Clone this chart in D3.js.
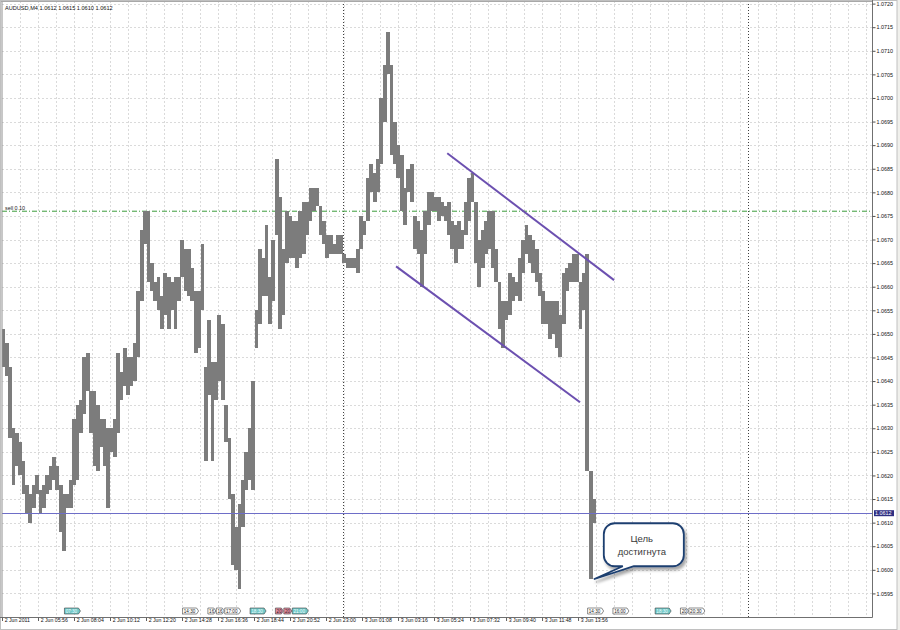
<!DOCTYPE html>
<html><head><meta charset="utf-8">
<script src="https://cdn.jsdelivr.net/npm/d3@7"></script>
<style>body{margin:0;background:#fff}svg{display:block}</style>
</head><body><svg id="c" width="900" height="630"></svg>
<script>
// ---------------- data ----------------
const symbol = "AUDUSD,M4";
const lastOHLC = [1.0612, 1.0615, 1.0610, 1.0612];
const firstBar = "2011-06-02T03:52";
const barMinutes = 12;
const highs = [1.0651,1.0648,1.0643,1.0630,1.0629,1.0627,1.0623,1.0618,1.0616,1.0618,
1.0620,1.0617,1.0618,1.0620,1.0622,1.0624,1.0622,1.0618,1.0616,1.0616,
1.0619,1.0632,1.0635,1.0636,1.0645,1.0646,1.0638,1.0638,1.0635,1.0632,
1.0632,1.0630,1.0630,1.0632,1.0646,1.0642,1.0647,1.0645,1.0645,1.0648,
1.0659,1.0672,1.0676,1.0676,1.0665,1.0661,1.0662,1.0658,1.0663,1.0662,
1.0661,1.0662,1.0662,1.0670,1.0668,1.0668,1.0664,1.0659,1.0659,1.0669,
1.0643,1.0653,1.0644,1.0644,1.0654,1.0652,1.0635,1.0628,1.0616,1.0609,
1.0614,1.0619,1.0625,1.0630,1.0640,1.0655,1.0668,1.0666,1.0673,1.0662,
1.0670,1.0687,1.0679,1.0668,1.0676,1.0675,1.0674,1.0674,1.0676,1.0678,
1.0678,1.0681,1.0681,1.0681,1.0677,1.0674,1.0671,1.0671,1.0669,1.0671,
1.0671,1.0667,1.0666,1.0666,1.0666,1.0668,1.0675,1.0674,1.0683,1.0686,
1.0684,1.0687,1.0700,1.0707,1.0714,1.0707,1.0695,1.0690,1.0688,1.0681,
1.0685,1.0686,1.0675,1.0674,1.0672,1.0676,1.0680,1.0680,1.0679,1.0679,
1.0678,1.0677,1.0678,1.0674,1.0673,1.0674,1.0672,1.0678,1.0683,1.0684,
1.0678,1.0670,1.0672,1.0674,1.0676,1.0676,1.0668,1.0661,1.0657,1.0657,
1.0663,1.0662,1.0661,1.0666,1.0670,1.0673,1.0671,1.0670,1.0668,1.0663,
1.0659,1.0657,1.0657,1.0657,1.0657,1.0654,1.0663,1.0664,1.0665,1.0667,
1.0667,1.0661,1.0663,1.0667,1.0621,1.0615];
const lows = [1.0643,1.0641,1.0628,1.0618,1.0622,1.0620,1.0616,1.0612,1.0610,1.0613,
1.0616,1.0612,1.0613,1.0616,1.0617,1.0619,1.0617,1.0608,1.0604,1.0613,
1.0613,1.0618,1.0619,1.0629,1.0633,1.0638,1.0629,1.0622,1.0621,1.0626,
1.0622,1.0613,1.0625,1.0624,1.0629,1.0636,1.0639,1.0637,1.0639,1.0640,
1.0645,1.0657,1.0669,1.0661,1.0659,1.0657,1.0655,1.0651,1.0654,1.0651,
1.0655,1.0651,1.0657,1.0662,1.0659,1.0658,1.0657,1.0646,1.0647,1.0655,
1.0623,1.0637,1.0623,1.0636,1.0640,1.0636,1.0627,1.0615,1.0601,1.0600,
1.0596,1.0609,1.0617,1.0619,1.0617,1.0647,1.0652,1.0658,1.0658,1.0652,
1.0657,1.0671,1.0651,1.0654,1.0665,1.0666,1.0666,1.0664,1.0666,1.0667,
1.0671,1.0674,1.0676,1.0677,1.0671,1.0669,1.0666,1.0667,1.0667,1.0667,
1.0667,1.0665,1.0664,1.0664,1.0664,1.0663,1.0668,1.0671,1.0674,1.0680,
1.0678,1.0680,1.0686,1.0695,1.0705,1.0688,1.0686,1.0683,1.0676,1.0673,
1.0680,1.0678,1.0668,1.0667,1.0660,1.0667,1.0673,1.0676,1.0676,1.0674,
1.0675,1.0674,1.0671,1.0668,1.0665,1.0668,1.0668,1.0671,1.0674,1.0678,
1.0665,1.0660,1.0664,1.0667,1.0668,1.0664,1.0661,1.0651,1.0647,1.0653,
1.0654,1.0657,1.0658,1.0657,1.0663,1.0667,1.0665,1.0663,1.0661,1.0658,
1.0652,1.0652,1.0649,1.0650,1.0647,1.0645,1.0652,1.0659,1.0661,1.0661,
1.0661,1.0651,1.0655,1.0621,1.0598,1.0610];

const priceTicks = [1.0595,1.0600,1.0605,1.0610,1.0615,1.0620,1.0625,1.0630,1.0635,1.0640,
1.0645,1.0650,1.0655,1.0660,1.0665,1.0670,1.0675,1.0680,1.0685,1.0690,1.0695,1.0700,
1.0705,1.0710,1.0715,1.0720];
const timeTicks = ["2011-06-02T03:48","2011-06-02T05:56","2011-06-02T08:04","2011-06-02T10:12",
"2011-06-02T12:20","2011-06-02T14:28","2011-06-02T16:36","2011-06-02T18:44","2011-06-02T20:52",
"2011-06-02T23:00","2011-06-03T01:08","2011-06-03T03:16","2011-06-03T05:24","2011-06-03T07:32",
"2011-06-03T09:40","2011-06-03T11:48","2011-06-03T13:56"];
const timeTickLabels = ["2 Jun 2011","2 Jun 05:56","2 Jun 08:04","2 Jun 10:12","2 Jun 12:20",
"2 Jun 14:28","2 Jun 16:36","2 Jun 18:44","2 Jun 20:52","2 Jun 23:00","3 Jun 01:08",
"3 Jun 03:16","3 Jun 05:24","3 Jun 07:32","3 Jun 09:40","3 Jun 11:48","3 Jun 13:56"];
const daySeparators = ["2011-06-03T00:00","2011-06-04T00:00"];
const sellLevel = 1.0676, sellLabel = "sell 0.10";
const bidLevel = 1.0612;
const eventTimes = ["2011-06-02T07:30","2011-06-02T14:30","2011-06-02T16:00","2011-06-02T16:30",
"2011-06-02T17:00","2011-06-02T18:30","2011-06-02T20:00","2011-06-02T20:30","2011-06-02T21:00",
"2011-06-03T14:30","2011-06-03T16:00","2011-06-03T18:30","2011-06-03T20:00","2011-06-03T20:30"];
const eventKinds = ["teal","white","white","white","white","teal","pink","pink","teal",
"white","white","teal","white","white"];
const upperChannel = [["2011-06-03T06:11",1.06883],["2011-06-03T16:04",1.06614]];
const lowerChannel = [["2011-06-03T03:09",1.06643],["2011-06-03T14:03",1.06355]];
const calloutLines = ["Цель","достигнута"];
const calloutAt = ["2011-06-03T14:52", 1.0598];

// ---------------- drawing ----------------
const parse = d3.timeParse("%Y-%m-%dT%H:%M");
const svg = d3.select("#c");
const W = 900, H = 630;
const L = 2, R = 872, T = 3.6, B = 617;
const tStart = parse("2011-06-02T03:48");
const x = d3.scaleTime().domain([tStart, d3.timeMinute.offset(tStart, 3093)]).range([L, R]);
const y = d3.scaleLinear().domain([1.0590, 1.0720]).range([B, T]);
const FONT = "Liberation Sans, Arial, sans-serif";

svg.append("rect").attr("width", W).attr("height", H).attr("fill", "#fff");
svg.append("rect").attr("x", 897).attr("width", 3).attr("height", H).attr("fill", "#f0f0ec");
svg.append("rect").attr("x", 0.5).attr("y", 0.5).attr("width", 896.5).attr("height", 629)
  .attr("fill", "none").attr("stroke", "#c0c0c0");

const defs = svg.append("defs");
defs.append("clipPath").attr("id", "plot").append("rect")
  .attr("x", L).attr("y", 1).attr("width", R - L).attr("height", B - 1);
const f = defs.append("filter").attr("id", "sh").attr("x", "-20%").attr("y", "-20%").attr("width", "150%").attr("height", "150%");
f.append("feDropShadow").attr("dx", 2).attr("dy", 3).attr("stdDeviation", 1.6).attr("flood-color", "#000").attr("flood-opacity", 0.35);

// grid
const g = svg.append("g").attr("clip-path", "url(#plot)");
const gridTimes = d3.range(64, 3093, 64).map(m => d3.timeMinute.offset(tStart, m));
g.selectAll(".vg").data(gridTimes).join("line")
  .attr("x1", d => Math.round(x(d)) + 0.5).attr("x2", d => Math.round(x(d)) + 0.5)
  .attr("y1", 1).attr("y2", B).attr("stroke", "#dadada").attr("stroke-dasharray", "2,2");
g.selectAll(".hg").data(priceTicks).join("line")
  .attr("x1", L).attr("x2", R).attr("y1", d => Math.round(y(d)) + 0.5).attr("y2", d => Math.round(y(d)) + 0.5)
  .attr("stroke", "#dadada").attr("stroke-dasharray", "2,2");

// day separators
g.selectAll(".ds").data(daySeparators.map(parse)).join("line")
  .attr("x1", d => Math.round(x(d)) + 0.5).attr("x2", d => Math.round(x(d)) + 0.5)
  .attr("y1", 1).attr("y2", B).attr("stroke", "#404040").attr("stroke-dasharray", "1,2");

// sell level
g.append("line").attr("x1", L).attr("x2", R).attr("y1", y(sellLevel)).attr("y2", y(sellLevel))
  .attr("stroke", "#3c9c3c").attr("stroke-dasharray", "5,2,1,2");
svg.append("text").attr("x", 5).attr("y", y(sellLevel) - 1.5).text(sellLabel)
  .attr("font-family", FONT).attr("font-size", 5.4).attr("fill", "#222");

// bars
const t0 = parse(firstBar);
const bars = highs.map((h, i) => ({t: d3.timeMinute.offset(t0, i * barMinutes), h, l: lows[i]}));
const bw = x(d3.timeMinute.offset(t0, barMinutes)) - x(t0);
g.selectAll(".bar").data(bars).join("rect")
  .attr("x", d => x(d.t) - bw / 2).attr("width", bw + 0.4)
  .attr("y", d => y(d.h)).attr("height", d => Math.max(1, y(d.l) - y(d.h)))
  .attr("fill", "#7c7c7c").attr("shape-rendering", "crispEdges");

// bid line
g.append("line").attr("x1", L).attr("x2", R).attr("y1", Math.round(y(bidLevel)) + 0.5).attr("y2", Math.round(y(bidLevel)) + 0.5)
  .attr("stroke", "#6e6ec8");

// channels
[upperChannel, lowerChannel].forEach(c => {
  svg.append("line")
    .attr("x1", x(parse(c[0][0]))).attr("y1", y(c[0][1]))
    .attr("x2", x(parse(c[1][0]))).attr("y2", y(c[1][1]))
    .attr("stroke", "#6c50b0").attr("stroke-width", 2);
});

// axes frame
svg.append("line").attr("x1", 2).attr("x2", 2).attr("y1", 1).attr("y2", B).attr("stroke", "#909090");
svg.append("line").attr("x1", 1).attr("x2", R).attr("y1", 1.5).attr("y2", 1.5).attr("stroke", "#a8a8a8");

// price axis
const ya = svg.append("g").attr("transform", `translate(${R + 0.5},0)`)
  .call(d3.axisRight(y).tickValues(priceTicks).tickFormat(d3.format(".4f")).tickSize(3).tickPadding(1));
ya.select(".domain").attr("stroke", "#707070").attr("d", `M0,0V${B + 0.5}`);
ya.selectAll(".tick line").attr("stroke", "#505050");
ya.selectAll(".tick text").attr("font-family", FONT).attr("font-size", 5.4).attr("fill", "#111");

// time axis
const xa = svg.append("g").attr("transform", `translate(0,${B + 0.5})`)
  .call(d3.axisBottom(x).tickValues(timeTicks.map(parse))
    .tickFormat((d, i) => timeTickLabels[i]).tickSize(3.5).tickPadding(1));
xa.select(".domain").attr("stroke", "#707070").attr("d", `M0,0H${R + 0.5}`);
xa.selectAll(".tick line").attr("stroke", "#606060");
xa.selectAll(".tick text").attr("font-family", FONT).attr("font-size", 5.2).attr("fill", "#111")
  .attr("text-anchor", "start").attr("dx", 2.2).attr("dy", -0.4);

// header
svg.append("text").attr("x", 5).attr("y", 10).attr("font-family", FONT).attr("font-size", 5.6).attr("fill", "#111")
  .text(symbol + "  " + lastOHLC.map(d3.format(".4f")).join(" "));

// current price label
const by = y(bidLevel);
svg.append("rect").attr("x", R + 2).attr("y", by - 3).attr("width", 20).attr("height", 6).attr("fill", "#2e2e82");
svg.append("text").attr("x", R + 3).attr("y", by).attr("dy", "0.35em").attr("font-family", FONT)
  .attr("font-size", 5.4).attr("fill", "#fff").text(d3.format(".4f")(bidLevel));

// events
const evFill = {teal: "#6fc8c8", pink: "#e08ea2", white: "#ffffff"};
const evText = {teal: "#f4ffff", pink: "#3a2020", white: "#222"};
const evs = eventTimes.map((t, i) => ({t: parse(t), s: t.slice(11), k: eventKinds[i]}));
evs.forEach((e, i) => {
  const x0 = x(e.t);
  const next = evs[i + 1] ? x(evs[i + 1].t) : Infinity;
  const w = Math.min(16, next - x0 - 0.5);
  const y0 = 608, h = 6;
  svg.append("path")
    .attr("d", `M${x0},${y0}H${x0 + w - 2}L${x0 + w},${y0 + h / 2}L${x0 + w - 2},${y0 + h}H${x0}Z`)
    .attr("fill", evFill[e.k]).attr("stroke", "#404040").attr("stroke-width", 0.6);
  svg.append("text").attr("x", x0 + 1.2).attr("y", y0 + h / 2).attr("dy", "0.36em")
    .attr("font-family", FONT).attr("font-size", 4.6).attr("fill", evText[e.k])
    .text(w < 12 ? e.s.slice(0, 2) : e.s);
});

// callout
const tipX = x(parse(calloutAt[0])), tipY = y(calloutAt[1]);
const cx = tipX + 10, cy = tipY - 56, cw = 80, ch = 43, r = 11;
svg.append("path")
  .attr("d", `M${cx + r},${cy}H${cx + cw - r}A${r},${r} 0 0 1 ${cx + cw},${cy + r}V${cy + ch - r}` +
    `A${r},${r} 0 0 1 ${cx + cw - r},${cy + ch}H${cx + 30}L${tipX},${tipY}L${cx + 19},${cy + ch}H${cx + r}` +
    `A${r},${r} 0 0 1 ${cx},${cy + ch - r}V${cy + r}A${r},${r} 0 0 1 ${cx + r},${cy}Z`)
  .attr("fill", "#fff").attr("stroke", "#1f3f70").attr("stroke-width", 1.8).attr("filter", "url(#sh)");
calloutLines.forEach((s, i) => {
  svg.append("text").attr("x", cx + cw / 2 - 2).attr("y", cy + 19 + i * 13)
    .attr("text-anchor", "middle").attr("font-family", FONT).attr("font-size", 9.5).attr("fill", "#3a3a3a").text(s);
});
</script></body></html>
